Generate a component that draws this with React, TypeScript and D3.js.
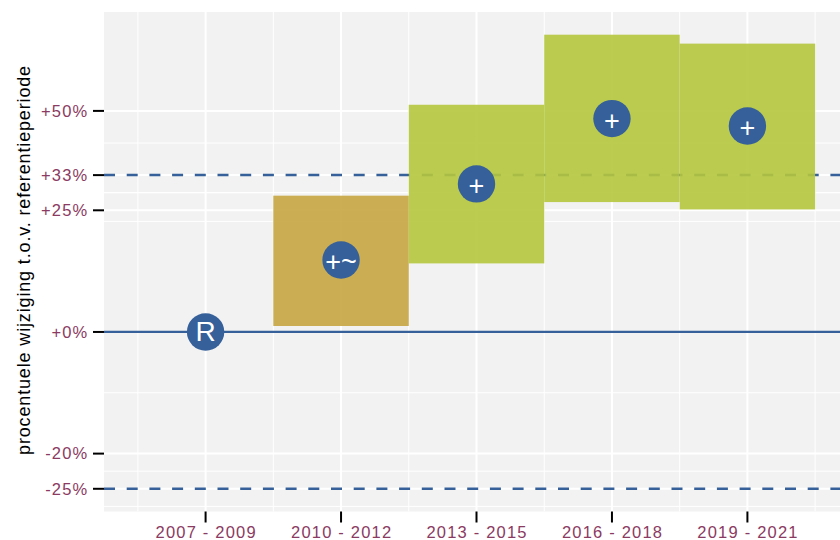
import React from "react";
import * as d3 from "d3";

const periods = ["2007 - 2009", "2010 - 2012", "2013 - 2015", "2016 - 2018", "2019 - 2021"];
const estimate = [1.0, 1.141, 1.312, 1.479, 1.459];
const lower = [NaN, 1.011, 1.134, 1.269, 1.252];
const upper = [NaN, 1.284, 1.517, 1.725, 1.697];
const symbols = ["R", "+~", "+", "+", "+"];
const trendClass = ["ref", "moderate", "strong", "strong", "strong"];

const yBreaks = [0.75, 0.8, 1.0, 1.5, 4 / 3, 1.25];
const yLabels = ["-25%", "-20%", "+0%", "+50%", "+33%", "+25%"];
const dashedLines = [4 / 3, 0.75];
const solidLines = [1.0];

const W = 840;
const H = 540;
const panel = { left: 104, right: 849, top: 12, bottom: 511.5 };

const fillColor: Record<string, string> = {
  moderate: "#c6a542",
  strong: "#b5c73d",
};
const blue = "#35609a";
const labelColor = "#8b3a62";

export default function App() {
  React.useEffect(() => {
    document.body.style.margin = "0";
  }, []);

  // y scale (log), with 5% expansion of the trained range
  const allY = [
    ...estimate,
    ...lower.filter((v) => !isNaN(v)),
    ...upper.filter((v) => !isNaN(v)),
    ...dashedLines,
    ...solidLines,
  ].map(Math.log);
  const lo = d3.min(allY)!;
  const hi = d3.max(allY)!;
  const ex = (hi - lo) * 0.05;
  const y = d3
    .scaleLog()
    .domain([Math.exp(lo - ex), Math.exp(hi + ex)])
    .range([panel.bottom, panel.top]);

  const idx = periods.map((_, i) => i + 1);
  const x = d3
    .scaleLinear()
    .domain([0.25, 5.75])
    .range([panel.left, panel.right]);

  // minor breaks, ggplot style (midpoints in transformed space)
  const lb = yBreaks.map(Math.log);
  const bd = lb[1] - lb[0];
  const ext = [lb[0] - bd, ...lb, lb[lb.length - 1] + bd];
  const yMinor: number[] = [];
  for (let i = 0; i < ext.length - 1; i++) yMinor.push(Math.exp((ext[i] + ext[i + 1]) / 2));
  const xMinor = [0.5, 1.5, 2.5, 3.5, 4.5, 5.5];

  const font = "'Liberation Sans', Arial, Helvetica, sans-serif";

  return (
    <svg width={W} height={H} style={{ display: "block" }} fontFamily={font}>
      <rect x={0} y={0} width={W} height={H} fill="#ffffff" />
      <rect
        x={panel.left}
        y={panel.top}
        width={panel.right - panel.left}
        height={panel.bottom - panel.top}
        fill="#f2f2f2"
      />
      {/* minor grid */}
      {yMinor.map((v, i) => (
        <line key={"ym" + i} x1={panel.left} x2={panel.right} y1={y(v)} y2={y(v)} stroke="#fff" strokeWidth={1} />
      ))}
      {xMinor.map((v, i) => (
        <line key={"xm" + i} x1={x(v)} x2={x(v)} y1={panel.top} y2={panel.bottom} stroke="#fff" strokeWidth={1} />
      ))}
      {/* major grid */}
      {yBreaks.map((v, i) => (
        <line key={"yM" + i} x1={panel.left} x2={panel.right} y1={y(v)} y2={y(v)} stroke="#fff" strokeWidth={2} />
      ))}
      {idx.map((v, i) => (
        <line key={"xM" + i} x1={x(v)} x2={x(v)} y1={panel.top} y2={panel.bottom} stroke="#fff" strokeWidth={2} />
      ))}
      {/* reference lines */}
      {dashedLines.map((v, i) => (
        <line
          key={"dl" + i}
          x1={panel.left}
          x2={panel.right}
          y1={y(v)}
          y2={y(v)}
          stroke={blue}
          strokeWidth={2.5}
          strokeDasharray="11 11.7"
        />
      ))}
      {solidLines.map((v, i) => (
        <line key={"sl" + i} x1={panel.left} x2={panel.right} y1={y(v)} y2={y(v)} stroke={blue} strokeWidth={2.2} />
      ))}
      {/* interval boxes */}
      {idx.map((v, i) =>
        isNaN(lower[i]) ? null : (
          <rect
            key={"box" + i}
            x={x(v - 0.5)}
            width={x(v + 0.5) - x(v - 0.5)}
            y={y(upper[i])}
            height={y(lower[i]) - y(upper[i])}
            fill={fillColor[trendClass[i]]}
            fillOpacity={0.9}
          />
        )
      )}
      {/* points */}
      {idx.map((v, i) => (
        <g key={"pt" + i}>
          <circle cx={x(v)} cy={y(estimate[i])} r={18.7} fill={blue} />
          <text
            x={x(v)}
            y={y(estimate[i]) + (symbols[i] === "R" ? 9 : 11)}
            textAnchor="middle"
            fill="#ffffff"
            fontSize={symbols[i] === "R" ? 28 : 27}
          >
            {symbols[i]}
          </text>
        </g>
      ))}
      {/* y axis */}
      {yBreaks.map((v, i) => (
        <g key={"yt" + i}>
          <line x1={93} x2={104} y1={y(v)} y2={y(v)} stroke="#000" strokeWidth={2} />
          <text
            x={88.5}
            y={y(v) + 5.8}
            textAnchor="end"
            fill={labelColor}
            fontSize={16.5}
            letterSpacing={1.2}
          >
            {yLabels[i]}
          </text>
        </g>
      ))}
      {/* x axis */}
      {idx.map((v, i) => (
        <g key={"xt" + i}>
          <line x1={x(v)} x2={x(v)} y1={511.5} y2={522.5} stroke="#000" strokeWidth={2} />
          <text
            x={x(v) + 0.6}
            y={538.3}
            textAnchor="middle"
            fill={labelColor}
            fontSize={16.5}
            letterSpacing={1.2}
          >
            {periods[i]}
          </text>
        </g>
      ))}
      <text
        transform={`translate(30, 260) rotate(-90)`}
        textAnchor="middle"
        fill="#000"
        fontSize={18}
        letterSpacing={0.85}
      >
        procentuele wijziging t.o.v. referentieperiode
      </text>
    </svg>
  );
}
